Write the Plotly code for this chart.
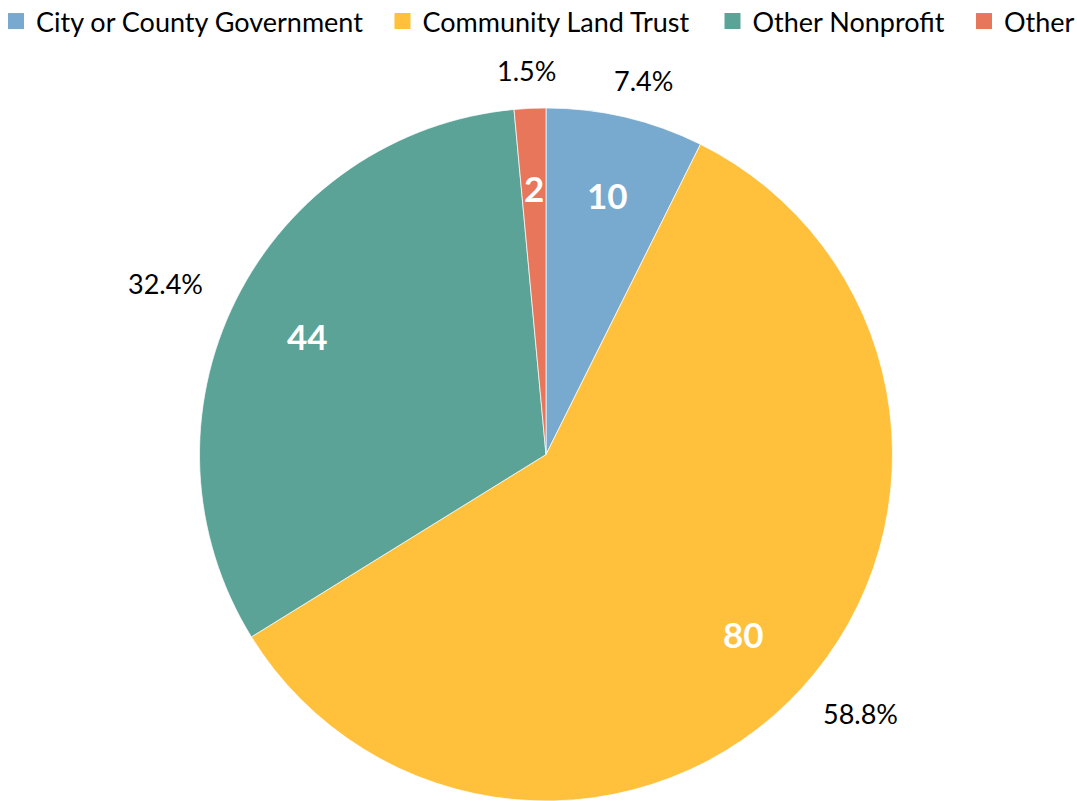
import math
import plotly.graph_objects as go

# Ownership categories and counts
categories = ["City or County Government", "Community Land Trust", "Other Nonprofit", "Other"]
counts = [10, 80, 44, 2]
colors = ["#78A9CF", "#FFC03B", "#5CA397", "#E8765A"]

W, H = 1077, 801
FONT = "Lato"

# pie placement (pixels): center and radius of the disc
CX, CY, R = 546.0, 454.5, 346.5

# left edge (pixels) of each legend entry along the top row
LEGEND_X = [-4, 382.5, 712.5, 964]

fig = go.Figure()
fig.add_trace(go.Pie(
    labels=categories,
    values=counts,
    marker=dict(colors=colors, line=dict(color="rgba(255,255,255,0.7)", width=1)),
    sort=False,
    direction="clockwise",
    rotation=0,
    textinfo="none",
    hoverinfo="label+value+percent",
    showlegend=False,
    domain=dict(x=[(CX - R) / W, (CX + R) / W], y=[0, (H - (CY - R)) / H]),
))

# one legend per category so each entry sits at its own spot in the row
legend_layout = {}
for i, (cat, col) in enumerate(zip(categories, colors)):
    key = "legend" if i == 0 else f"legend{i + 1}"
    fig.add_trace(go.Scatter(
        x=[None], y=[None], mode="markers", name=cat,
        marker=dict(symbol="square", size=16, color=col),
        showlegend=True, hoverinfo="skip", legend=key,
    ))
    legend_layout[key] = dict(
        orientation="h",
        x=LEGEND_X[i] / W, y=1.0 + 3 / H, xanchor="left", yanchor="top",
        font=dict(family=FONT, size=27, color="#000000"),
        itemsizing="trace",
        bgcolor="rgba(0,0,0,0)",
    )

total = sum(counts)
start = 0.0
annotations = []
for cat, v in zip(categories, counts):
    frac = v / total
    mid = (start + frac / 2) * 2 * math.pi
    start += frac
    dx, dy = math.sin(mid), -math.cos(mid)  # clockwise from 12 o'clock, screen y down

    # value label inside the slice
    ix, iy = CX + dx * 0.77 * R, CY + dy * 0.77 * R
    annotations.append(dict(
        x=ix / W, y=(H - iy) / H, xref="paper", yref="paper",
        text=f"<b>{v}</b>", showarrow=False,
        font=dict(family=FONT, size=35, color="white"),
        xanchor="center", yanchor="middle",
    ))

    # percentage label outside the slice
    ox, oy = CX + dx * 1.227 * R, CY + dy * 1.11 * R
    annotations.append(dict(
        x=ox / W, y=(H - oy) / H, xref="paper", yref="paper",
        text=f"{frac * 100:.1f}%", showarrow=False,
        font=dict(family=FONT, size=27, color="#000000"),
        xanchor="center", yanchor="middle",
    ))

fig.update_layout(
    width=W, height=H,
    margin=dict(l=0, r=0, t=0, b=0, autoexpand=False),
    paper_bgcolor="white",
    plot_bgcolor="white",
    font=dict(family=FONT, color="#000000"),
    xaxis=dict(visible=False),
    yaxis=dict(visible=False),
    showlegend=True,
    annotations=annotations,
    **legend_layout,
)

fig.write_html("out.html")
